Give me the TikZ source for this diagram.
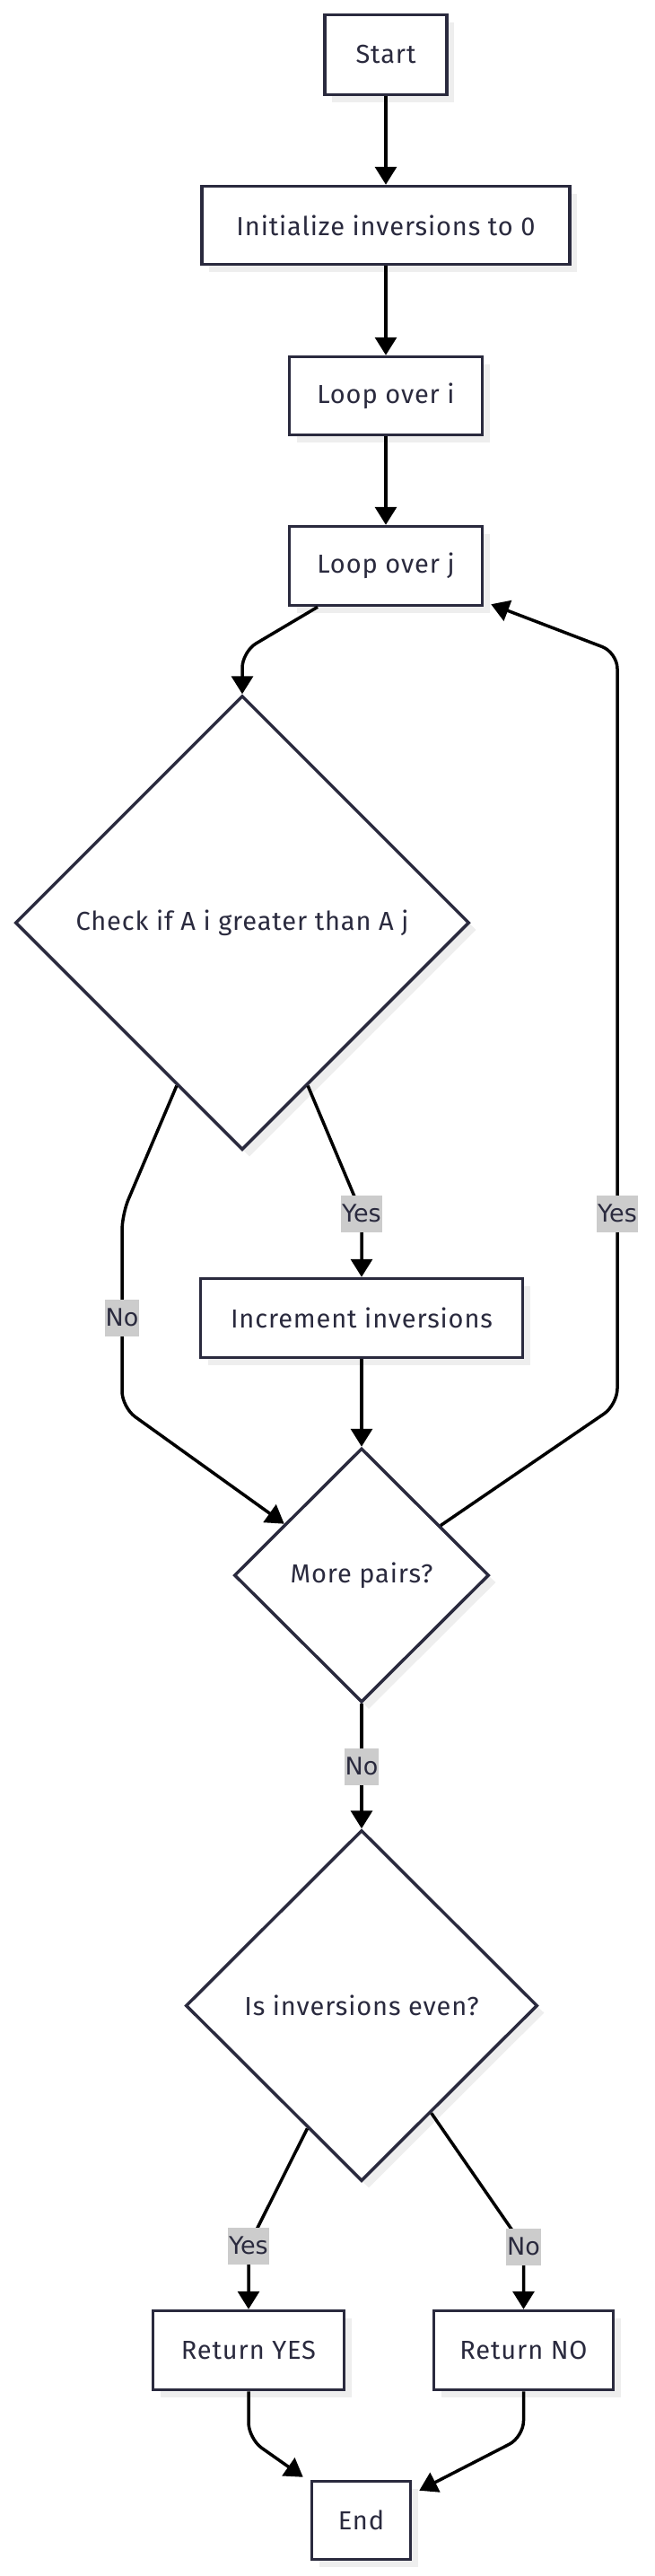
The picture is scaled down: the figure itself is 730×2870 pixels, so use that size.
\documentclass[tikz,border=0pt]{standalone}
\usepackage{fontspec}
\setmainfont{Fira Sans}[LetterSpace=3]
\newfontfamily\labelfont{DejaVu Sans}
\usetikzlibrary{arrows.meta,shapes.geometric,shadows,calc}
\definecolor{ink}{RGB}{42,42,62}
\definecolor{shadowgray}{RGB}{238,238,238}
\definecolor{lblbg}{RGB}{204,204,204}
\begin{document}
\begin{tikzpicture}[x=1pt,y=-1pt,
  every node/.style={font=\fontsize{29}{35}\selectfont, text=ink},
  box/.style={draw=ink, line width=3.5pt, fill=white, rectangle, inner sep=0pt,
    general shadow={fill=shadowgray, shadow xshift=8pt, shadow yshift=-8pt}},
  dia/.style={draw=ink, line width=3.5pt, fill=white, diamond, aspect=1, inner sep=0pt,
    general shadow={fill=shadowgray, shadow xshift=8pt, shadow yshift=-8pt}},
  conn/.style={draw=black, line width=3.5pt, -{Triangle[length=20pt,width=24pt]}, rounded corners=18pt},
  elabel/.style={sharp corners, draw=none, fill=lblbg, font=\labelfont\fontsize{27}{32}\selectfont, inner xsep=1pt, inner ysep=0pt, minimum height=41pt, text=ink}
]
\useasboundingbox[fill=white] (0,0) rectangle (730,2870);

% nodes
\node[box, minimum width=136pt, minimum height=89pt] (start) at (430,61) {Start};
\node[box, minimum width=410pt, minimum height=87pt] (init) at (430,251) {Initialize inversions to 0};
\node[box, minimum width=215pt, minimum height=87pt] (loopi) at (430,441) {Loop over i};
\node[box, minimum width=215pt, minimum height=88pt] (loopj) at (430,630.5) {Loop over j};
\node[dia, minimum width=506pt, minimum height=506pt] (check) at (270,1028) {Check if A i greater than A j};
\node[box, minimum width=359pt, minimum height=88pt] (incr) at (403,1468.5) {Increment inversions};
\node[dia, minimum width=284pt, minimum height=283pt] (more) at (403,1755) {More pairs?};
\node[dia, minimum width=392pt, minimum height=391pt] (iseven) at (403,2234.5) {Is inversions even?};
\node[box, minimum width=213pt, minimum height=88pt] (retyes) at (277,2618.5) {Return YES};
\node[box, minimum width=200pt, minimum height=88pt] (retno) at (583.5,2618.5) {Return NO};
\node[box, minimum width=110pt, minimum height=87pt] (stop) at (402.5,2808) {End};

% bend points
\coordinate (c1) at (270,726);
\coordinate (c2) at (403,1352);
\coordinate (c3) at (136,1353);
\coordinate (c4) at (136,1568);
\coordinate (c5) at (688,1565);
\coordinate (c6) at (688,727);
\coordinate (c7) at (277,2502);
\coordinate (c8) at (583.5,2503);
\coordinate (c9) at (277,2717);
\coordinate (c10) at (583.5,2715);
\coordinate (c11) at (403,1968);

% connectors
\draw[conn] (start) -- (init);
\draw[conn] (init) -- (loopi);
\draw[conn] (loopi) -- (loopj);
\draw[conn] ([xshift=-76pt]loopj.south) -- (c1) -- (check.north);
\draw[conn] ($(check.south)!0.287!(check.east)$) -- (c2) -- (incr.north);
\draw[conn] ($(check.south)!0.287!(check.west)$) -- (c3) -- (c4) -- ($(more.west)!0.4!(more.north)$);
\draw[conn] (incr) -- (more);
\draw[conn] ($(more.north)!0.613!(more.east)$) -- (c5) -- (c6) -- ([xshift=8pt,yshift=3pt]loopj.south east);
\draw[conn] (more) -- (iseven);
\draw[conn] ($(iseven.south)!0.306!(iseven.west)$) -- (c7) -- (retyes.north);
\draw[conn] ($(iseven.south)!0.393!(iseven.east)$) -- (c8) -- (retno.north);
\draw[conn] (retyes.south) -- (c9) -- ([xshift=-8pt,yshift=3pt]stop.north west);
\draw[conn] (retno.south) -- (c10) -- ([xshift=8pt,yshift=-12pt]stop.north east);

% edge labels
\node[elabel] (lyes1) at (c2) {Yes};
\node[elabel] (lno1) at (136,1468) {No};
\node[elabel] (lyes2) at (688,1352) {Yes};
\node[elabel] (lno2) at (c11) {No};
\node[elabel] (lyes3) at (c7) {Yes};
\node[elabel] (lno3) at (c8) {No};
\end{tikzpicture}
\end{document}
